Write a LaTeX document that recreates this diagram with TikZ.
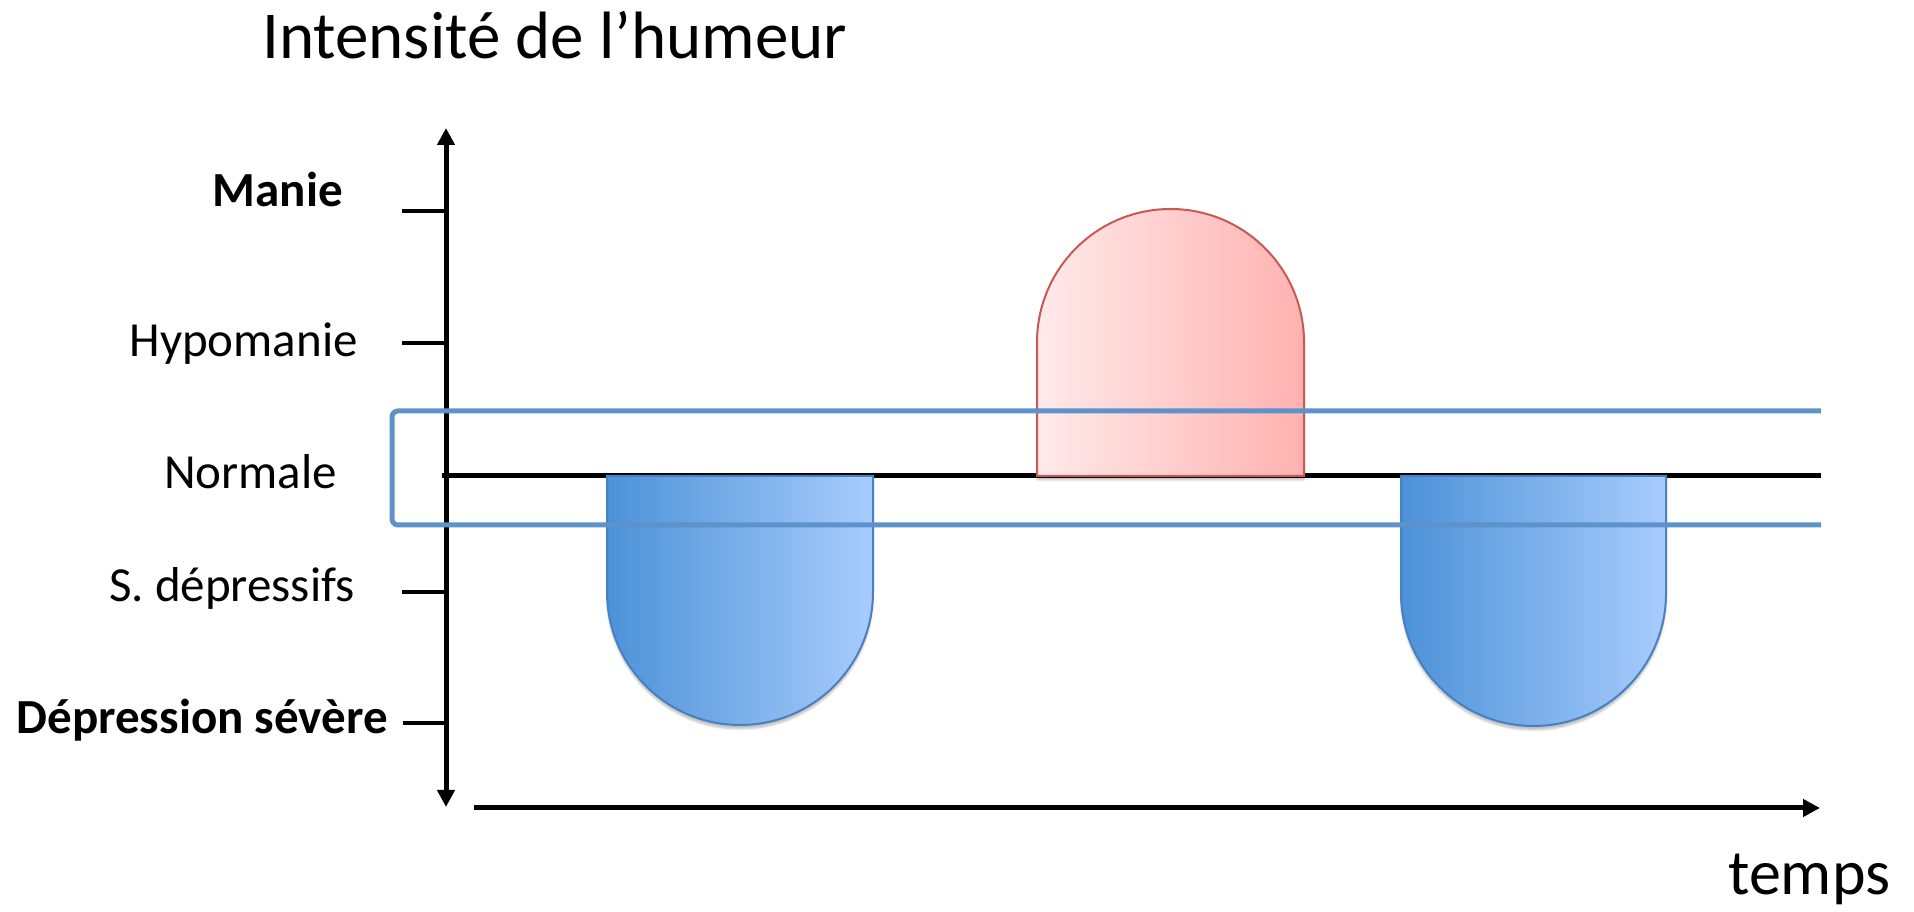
\documentclass[tikz,border=0pt]{standalone}
\usepackage{fontspec}
\setmainfont{Carlito}
\usetikzlibrary{arrows.meta,shadows.blur}

\definecolor{bandblue}{RGB}{93,146,202}
\definecolor{lowblueL}{RGB}{76,146,216}
\definecolor{lowblueR}{RGB}{168,204,252}
\definecolor{lowedge}{RGB}{72,128,192}
\definecolor{highredL}{RGB}{255,234,234}
\definecolor{highredR}{RGB}{255,178,176}
\definecolor{highedge}{RGB}{200,88,84}

\begin{document}
\begin{tikzpicture}[x=1pt,y=1pt,
  axisline/.style={line width=5pt,-{Triangle[width=17pt,length=17pt]}},
  tickline/.style={line width=4pt},
  baseline/.style={line width=5pt},
  band/.style={draw=bandblue,line width=5pt,rounded corners=6pt},
  lowphase/.style={draw=lowedge,line width=2pt,left color=lowblueL,right color=lowblueR,
    blur shadow={shadow xshift=0pt,shadow yshift=-4pt,shadow opacity=25,shadow blur steps=6}},
  highphase/.style={draw=highedge,line width=2pt,left color=highredL,right color=highredR,
    blur shadow={shadow xshift=0pt,shadow yshift=-4pt,shadow opacity=25,shadow blur steps=6}},
  level/.style={inner sep=0pt,anchor=base east,font=\fontsize{49}{55}\selectfont},
  heading/.style={inner sep=0pt,anchor=base west,font=\fontsize{67}{72}\selectfont}]

\useasboundingbox (0,0) rectangle (1914,912);

% axes
\coordinate (ymid) at (446,456);
\coordinate (ytop) at (446,784);
\coordinate (ybot) at (446,105);
\coordinate (xstart) at (474,104);
\coordinate (xend) at (1820,104);
\draw[axisline] (ymid) -- (ytop);
\draw[axisline] (ymid) -- (ybot);
\draw[axisline] (xstart) -- (xend);

% level ticks
\coordinate (t1a) at (402,701); \coordinate (t1b) at (446,701);
\coordinate (t2a) at (402,569); \coordinate (t2b) at (446,569);
\coordinate (t4a) at (402,320); \coordinate (t4b) at (446,320);
\coordinate (t5a) at (403,189); \coordinate (t5b) at (446,189);
\draw[tickline] (t1a) -- (t1b);
\draw[tickline] (t2a) -- (t2b);
\draw[tickline] (t4a) -- (t4b);
\draw[tickline] (t5a) -- (t5b);

% normal mood line
\coordinate (n0) at (442,436);
\coordinate (n1) at (1821,436);
\draw[baseline] (n0) -- (n1);

% episodes
\path[lowphase] (607,436) -- (607,320) arc[start angle=180,end angle=360,radius=133] -- (873,436) -- cycle;
\path[highphase] (1037,436) -- (1037,569.5) arc[start angle=180,end angle=0,radius=133.5] -- (1304,436) -- cycle;
\path[lowphase] (1401,436) -- (1401,318.5) arc[start angle=180,end angle=360,radius=132.5] -- (1666,436) -- cycle;

% normal range band
\coordinate (b0) at (1821,501);
\coordinate (b1) at (392,501);
\coordinate (b2) at (392,387);
\coordinate (b3) at (1821,387);
\draw[band] (b0) -- (b1) -- (b2) -- (b3);

% labels
\node[level] (manie) at (343,705) {\textbf{Manie}};
\node[level] (hypo) at (358,555) {Hypomanie};
\node[level] (normale) at (337,423) {Normale};
\node[level] (sdep) at (355,310) {S. dépressifs};
\node[level] (depsev) at (388,178) {\textbf{Dépression sévère}};

\node[heading] (title) at (262,853) {Intensité de l’humeur};
\node[heading,font=\fontsize{64}{70}\selectfont] (temps) at (1728,17) {temps};

\end{tikzpicture}
\end{document}
